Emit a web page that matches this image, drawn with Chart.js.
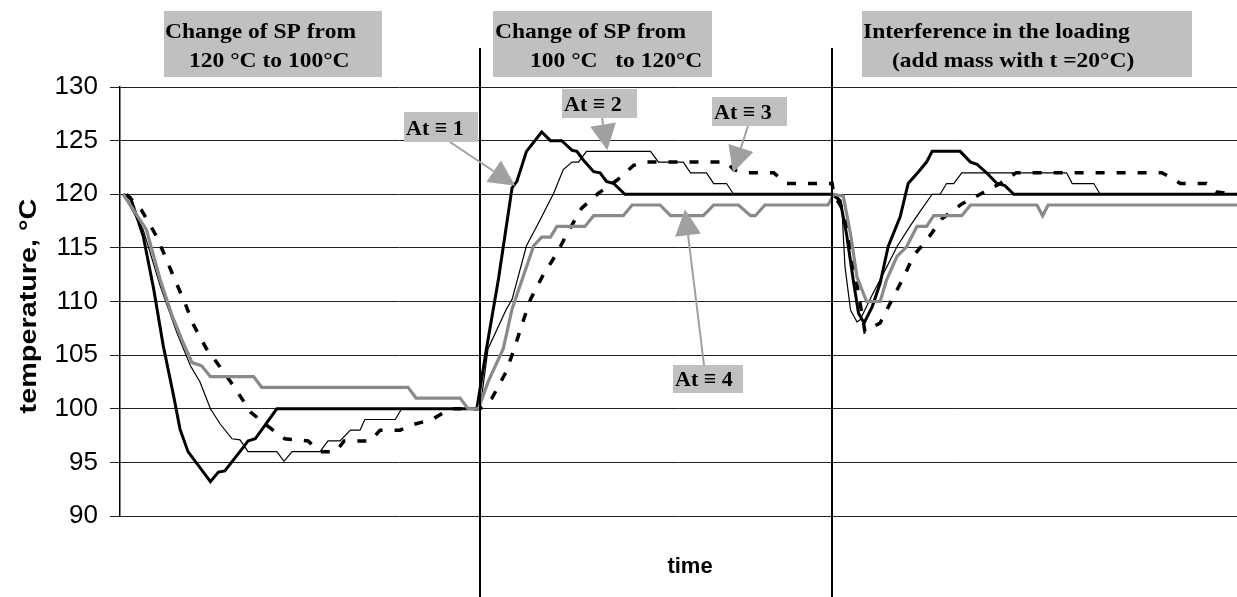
<!DOCTYPE html>
<html lang="en">
<head>
    <meta charset="UTF-8">
    <title>Temperature response</title>
    <script src="https://cdn.jsdelivr.net/npm/chart.js"></script>
    <style>
        html, body { margin: 0; padding: 0; background: #fff; }
        #chart { display: block; }
    </style>
</head>
<body>
    <canvas id="chart" width="1237" height="597"></canvas>

    <script>
        // time (arbitrary units) / temperature pairs
        const at1Points = [
            [0.4, 120], [1.3, 119.7], [2.9, 116.1], [4.2, 111.2], [5.4, 105.9], [6.7, 101.2], [7.5, 98.1],
            [8.5, 96], [11.3, 93.2], [12.3, 94.1], [13.1, 94.2], [15.4, 96.4], [16, 97], [16.9, 97.2],
            [19.6, 100], [44.6, 100], [45.8, 105.6], [47.3, 112.1], [49, 120.6], [49.6, 121.2], [50.8, 124],
            [52.7, 125.8], [53.8, 125], [55.2, 125], [56.5, 124.1], [57.1, 124], [57.9, 123.2], [59.2, 122.1],
            [60, 122], [60.8, 121.2], [61.7, 121], [63.1, 120], [89, 120], [90, 119.4], [90.8, 116.3],
            [91.7, 111.7], [92.3, 108.9], [93, 108], [94, 109.5], [95, 111.7], [96, 115.1], [97.5, 117.9],
            [98.5, 121], [99.8, 122.1], [100.8, 123], [101.5, 124], [105, 124], [106.3, 123], [107.1, 122.8],
            [108.3, 122], [109.6, 121], [110.6, 120.8], [111.7, 120], [139.6, 120]
        ];
        const at2Points = [
            [0.4, 120], [2.9, 116.7], [5, 111.5], [7.1, 107.1], [8.8, 104], [10, 102.5], [11.3, 100],
            [12.5, 98.6], [14, 97.2], [15, 97.1], [16, 96], [19.6, 96], [20.5, 95.1], [21.5, 96], [25, 96],
            [26, 97], [27.5, 97], [28.8, 98], [30, 98], [30.6, 99], [34.4, 99], [35.2, 100], [45, 100],
            [46, 105.6], [48.3, 109.3], [49, 110.2], [50.8, 115.2], [52.5, 117.6], [54.2, 120.1], [55.4, 122.3],
            [56.5, 123], [57.3, 123], [58.3, 124], [66.3, 124], [67.3, 123], [70.4, 123], [71.3, 122],
            [73.3, 122], [74.2, 121], [75.8, 121], [76.7, 120], [89.6, 120], [90.2, 119], [90.6, 113.3],
            [91.3, 109.2], [92.1, 108.1], [92.5, 108.3], [94, 110.6], [95.4, 112.6], [97.1, 115.1],
            [98.8, 117.1], [100, 118.4], [101.5, 120], [102.5, 120], [103.3, 121], [104.2, 121], [105.2, 122],
            [118.3, 122], [119, 121], [121.7, 121], [122.5, 120], [139.6, 120]
        ];
        const at3Points = [
            [0.8, 120], [2.7, 118.5], [4.4, 116.3], [5.6, 114.3], [6.7, 112.3], [8.1, 109.9], [9.2, 107.8],
            [10.8, 105.6], [12.7, 103.7], [14.4, 101.9], [16.3, 99.7], [18.6, 98.3], [20.6, 97.2], [23.5, 97],
            [25, 96], [27, 96], [28, 97], [31.3, 97], [32.5, 98], [35, 98], [36.5, 98.5], [39, 99],
            [41.3, 100], [45, 100], [46.5, 101], [48.3, 103.5], [49.4, 105.9], [50.4, 108.2], [51.3, 110.2],
            [52.9, 112.5], [54.6, 114.5], [56, 116.5], [57.7, 118.7], [59.8, 120.1], [62.1, 121.3],
            [64.2, 122.7], [65.4, 123], [75.8, 123], [76.7, 122.3], [78.3, 122], [81.7, 122], [83.3, 121],
            [89, 121], [89.2, 120], [90.4, 118.5], [91.7, 113.3], [93.1, 107.2], [95, 108], [96.5, 110.2],
            [97.9, 112.2], [99.2, 114.3], [101, 115.9], [102.7, 117.7], [105.2, 119.1], [107.5, 120],
            [110, 121], [112, 122], [130.2, 122], [131.5, 121.5], [132.5, 121], [135.8, 121], [137.1, 120.2],
            [139.6, 120]
        ];
        const at4Points = [
            [0.4, 120], [3.3, 116.7], [5, 112.1], [6.5, 108.7], [7.7, 106.5], [9, 104.3], [10.2, 104],
            [11.3, 103], [16.7, 103], [17.7, 102], [36, 102], [37, 101], [42.5, 101], [43.5, 100], [44.8, 100],
            [46, 102.5], [47.9, 105.6], [49, 109.3], [51.7, 115.2], [52.7, 116], [53.8, 116], [54.6, 117],
            [58.1, 117], [59.2, 118], [62.9, 118], [64, 119], [67.5, 119], [68.8, 118], [72.9, 118], [74.2, 119],
            [77.3, 119], [78.8, 118], [79.4, 118], [80.6, 119], [88.5, 119], [89.2, 120], [90.4, 119.8],
            [91.3, 116.3], [92.1, 112.3], [93.3, 110], [95, 110], [95.8, 112], [97.1, 114.2], [98.3, 115.1],
            [99.6, 117], [100.8, 117], [101.7, 118], [105.2, 118], [106.3, 119], [114.6, 119], [115.3, 118],
            [116, 119], [139.6, 119]
        ];

        const yTicks = [90, 95, 100, 105, 110, 115, 120, 125, 130];
        const phaseBreaks = [45, 89];   // where the set point / load changes

        const phaseLabels = [
            { lines: ['Change of SP from', '120 \u00B0C to 100\u00B0C'], box: [164, 11, 218, 66], indent: [1, 25] },
            { lines: ['Change of SP from', '100 \u00B0C   to 120\u00B0C'], box: [493, 11, 219, 66], indent: [2, 37] },
            { lines: ['Interference in the loading', '(add mass with t =20\u00B0C)'], box: [862, 11, 330, 66], indent: [1, 30] }
        ];

        // callouts: label box (px) and arrow tip (data units)
        const callouts = [
            { text: 'At \u2261 1', box: [404, 112, 74, 30], from: [450, 142], tip: [49.4, 120.8] },
            { text: 'At \u2261 2', box: [562, 89, 75, 29], from: [602, 118], tip: [60.9, 124.1] },
            { text: 'At \u2261 3', box: [712, 97, 75, 29], from: [748, 126], tip: [76.6, 122] },
            { text: 'At \u2261 4', box: [673, 365, 70, 28], from: [704, 365], tip: [70.6, 118.6] }
        ];

        const toXY = pts => pts.map(p => ({ x: p[0], y: p[1] }));

        const serif = "'Liberation Serif', 'Times New Roman', serif";
        const sans = "'Liberation Sans', Arial, sans-serif";

        // text that is a bit wider than the font would normally be
        function wideText(ctx, txt, x, y, sx) {
            ctx.save();
            ctx.translate(x, y);
            ctx.scale(sx, 1);
            ctx.fillText(txt, 0, 0);
            ctx.restore();
        }

        const extras = {
            id: 'extras',
            afterDatasetsDraw(chart) {
                const ctx = chart.ctx;
                const xs = chart.scales.x, ys = chart.scales.y;
                ctx.save();

                // vertical separators
                ctx.strokeStyle = '#000';
                ctx.lineWidth = 2;
                phaseBreaks.forEach(t => {
                    const x = Math.round(xs.getPixelForValue(t));
                    ctx.beginPath();
                    ctx.moveTo(x, 48);
                    ctx.lineTo(x, chart.height);
                    ctx.stroke();
                });

                // callout arrows + labels
                callouts.forEach(c => {
                    const tx = xs.getPixelForValue(c.tip[0]);
                    const ty = ys.getPixelForValue(c.tip[1]);
                    const fx = c.from[0], fy = c.from[1];
                    const ang = Math.atan2(ty - fy, tx - fx);
                    const headLen = 26, headW = 13;
                    const bx = tx - headLen * Math.cos(ang);
                    const by = ty - headLen * Math.sin(ang);

                    ctx.strokeStyle = '#a0a0a0';
                    ctx.lineWidth = 2;
                    ctx.beginPath();
                    ctx.moveTo(fx, fy);
                    ctx.lineTo(bx, by);
                    ctx.stroke();

                    ctx.fillStyle = '#a0a0a0';
                    ctx.beginPath();
                    ctx.moveTo(tx, ty);
                    ctx.lineTo(bx + headW * Math.sin(ang), by - headW * Math.cos(ang));
                    ctx.lineTo(bx - headW * Math.sin(ang), by + headW * Math.cos(ang));
                    ctx.closePath();
                    ctx.fill();

                    const [x, y, w, h] = c.box;
                    ctx.fillStyle = '#c0c0c0';
                    ctx.fillRect(x, y, w, h);
                    ctx.fillStyle = '#000';
                    ctx.font = 'bold 22px ' + serif;
                    ctx.textAlign = 'left';
                    ctx.textBaseline = 'alphabetic';
                    ctx.fillText(c.text, x + 2, y + h - 7);
                });

                // phase labels at the top
                phaseLabels.forEach(p => {
                    const [x, y, w, h] = p.box;
                    ctx.fillStyle = '#c0c0c0';
                    ctx.fillRect(x, y, w, h);
                    ctx.fillStyle = '#000';
                    ctx.font = 'bold 21px ' + serif;
                    ctx.textAlign = 'left';
                    wideText(ctx, p.lines[0], x + p.indent[0], 38, 1.12);
                    wideText(ctx, p.lines[1], x + p.indent[1], 67, 1.12);
                });

                // axis titles
                ctx.fillStyle = '#000';
                ctx.font = 'bold 22px ' + sans;
                ctx.textAlign = 'center';
                ctx.fillText('time', 690, 573);

                ctx.save();
                ctx.translate(36, 306);
                ctx.rotate(-Math.PI / 2);
                ctx.scale(1.2, 1);
                ctx.font = 'bold 24px ' + sans;
                ctx.textAlign = 'center';
                ctx.textBaseline = 'alphabetic';
                ctx.fillText('temperature, \u00B0C', 0, 0);
                ctx.restore();

                ctx.restore();
            }
        };

        new Chart(document.getElementById('chart'), {
            type: 'line',
            data: {
                datasets: [
                    { label: 'At = 4', data: toXY(at4Points), borderColor: '#8a8a8a', borderWidth: 3.2 },
                    { label: 'At = 3', data: toXY(at3Points), borderColor: '#000', borderWidth: 3.5, borderDash: [9, 12] },
                    { label: 'At = 2', data: toXY(at2Points), borderColor: '#000', borderWidth: 1.2 },
                    { label: 'At = 1', data: toXY(at1Points), borderColor: '#000', borderWidth: 3 }
                ]
            },
            options: {
                responsive: false,
                animation: false,
                elements: { point: { radius: 0 }, line: { tension: 0, fill: false } },
                layout: { padding: { top: 87, bottom: 81, left: 0, right: 0 } },
                plugins: { legend: { display: false }, tooltip: { enabled: false } },
                scales: {
                    x: { type: 'linear', min: 0, max: 139.6, display: false },
                    y: {
                        min: 90,
                        max: 130,
                        afterBuildTicks: s => { s.ticks = yTicks.map(v => ({ value: v })); },
                        afterFit: s => { s.width = 120; },
                        ticks: { color: '#000', padding: 12, font: { family: sans, size: 26 } },
                        grid: { color: '#222', lineWidth: 1, tickLength: 10 },
                        border: { color: '#000', width: 1.5 },
                        title: { display: false }
                    }
                }
            },
            plugins: [extras]
        });
    </script>
</body>
</html>
